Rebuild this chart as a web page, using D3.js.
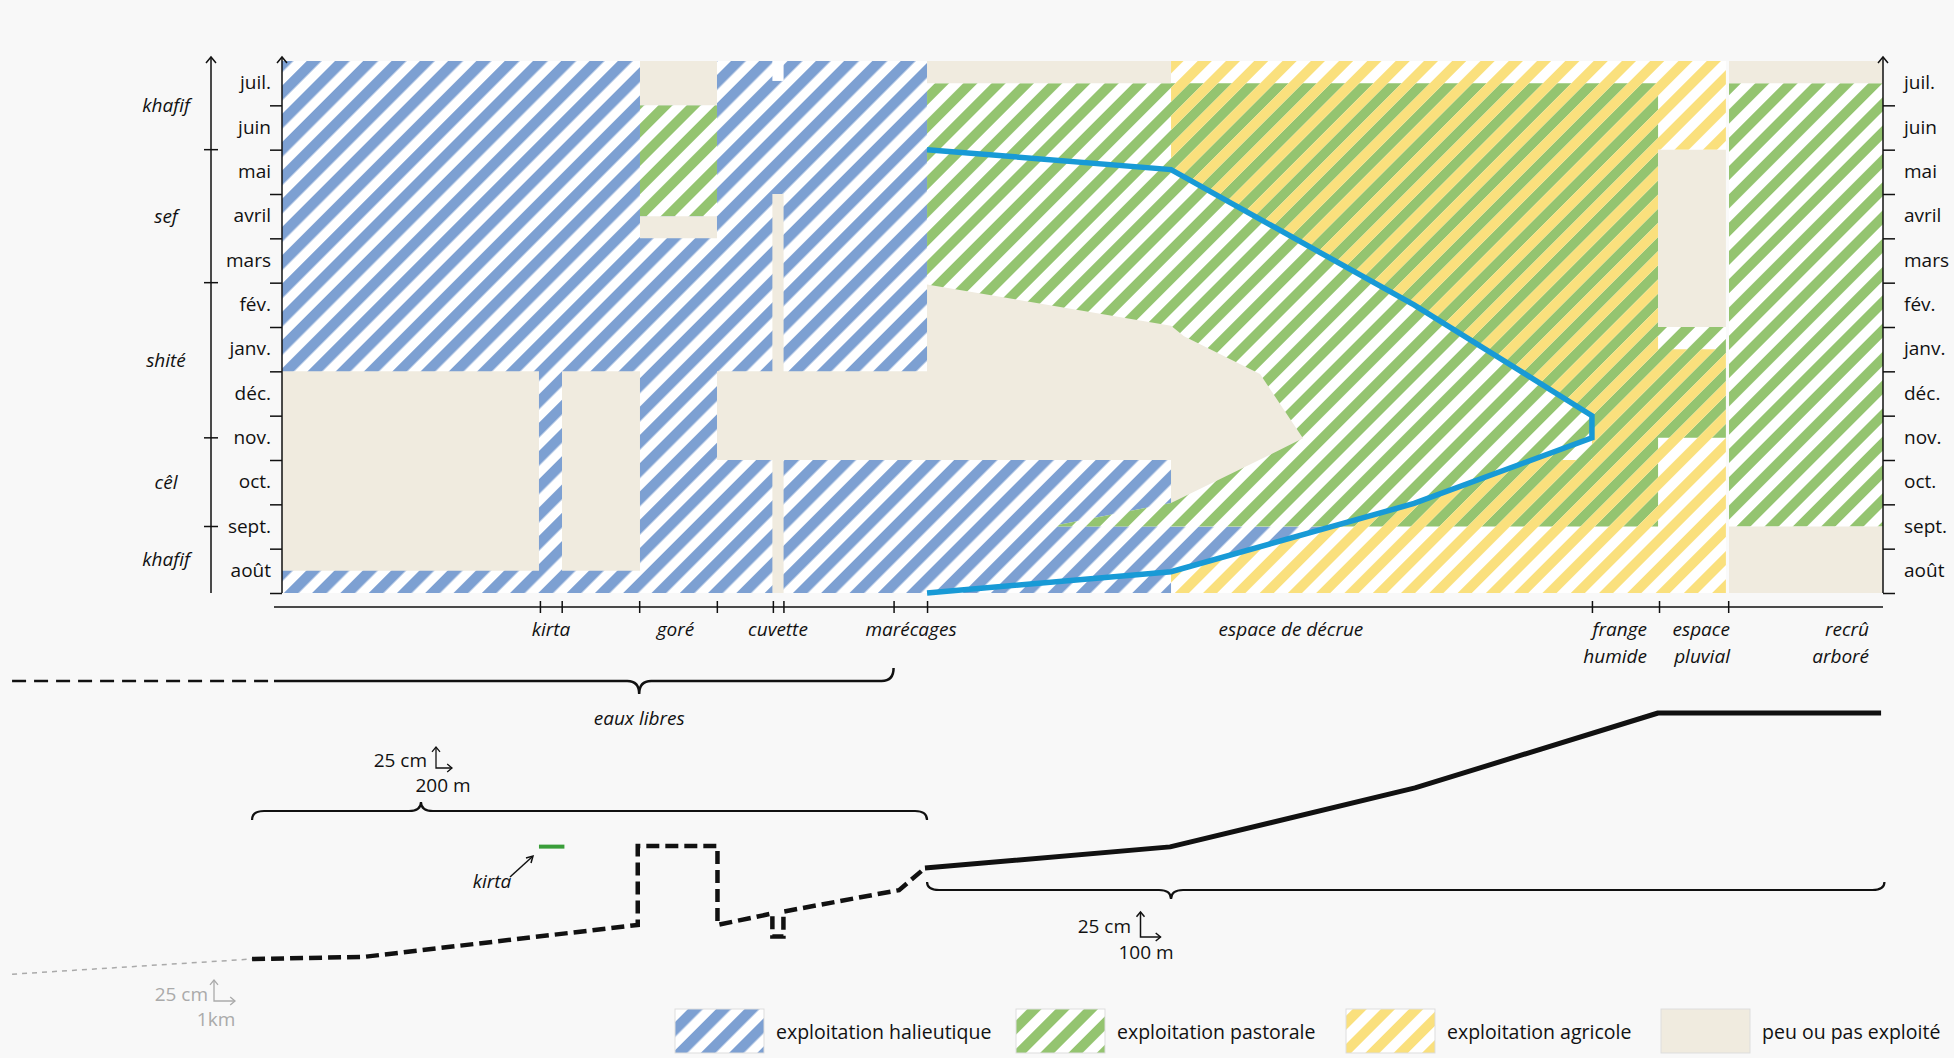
<!DOCTYPE html>
<html><head><meta charset="utf-8">
<script src="https://cdn.jsdelivr.net/npm/d3@7"></script>
<style>
html,body{margin:0;padding:0;background:#f8f8f8;}
svg{display:block;}
</style></head><body>
<svg id="chart" width="1954" height="1058"></svg>
<script>
// ---------------- DATA ----------------
// months from bottom (août) to top (juil.) ; month index 0..12
const months = ["août","sept.","oct.","nov.","déc.","janv.","fév.","mars","avril","mai","juin","juil."];
const seasons = [
  {name:"khafif", from:0, to:1.5},
  {name:"cêl", from:1.5, to:3.5},
  {name:"shité", from:3.5, to:7},
  {name:"sef", from:7, to:10},
  {name:"khafif", from:10, to:12}
];
const seasonBreaks = [1.5, 3.5, 7, 10];
// transect positions (0 = channel edge, 1000 = end of transect)
const zoneTicks = [161.1, 174.7, 223.1, 271.6, 306.6, 313.2, 382.0, 402.9, 818.2, 860.1, 903.3];
const zoneLabels = [
  {lines:["kirta"], at:168.0, anchor:"middle"},
  {lines:["goré"], at:245.8, anchor:"middle"},
  {lines:["cuvette"], at:309.8, anchor:"middle"},
  {lines:["marécages"], at:392.9, anchor:"middle"},
  {lines:["espace de décrue"], at:630.2, anchor:"middle"},
  {lines:["frange","humide"], at:852.6, anchor:"end"},
  {lines:["espace","pluvial"], at:904.4, anchor:"end"},
  {lines:["recrû","arboré"], at:991.3, anchor:"end"}
];
// land use zones: [transect, month]
const halieutique = [[0,12],[402.9,12],[402.9,3],[555.3,3],[555.3,1.5],[655.8,1.5],[555.3,0.48],[555.3,0],[0,0]];
const pastoraleRects = [[223.6,271.7,8.5,11],[903.8,1000,1.5,11.5]];
const pastoraleMain = [[402.9,11.5],[859.5,11.5],[859.5,6],[901.9,6],[901.9,3.5],[859.5,3.5],[859.5,1.5],[479.7,1.5],[555.3,2.03],[555.3,4],[402.9,4]];
const agricole = [[555.3,12],[901.9,12],[901.9,10],[859.5,10],[859.5,5.5],[901.9,5.5],[901.9,0],[555.3,0],[555.3,0.48],[707.1,2.02],[796,3.21],[796,3.0],[818.2,3.0],[818.2,4],[707.1,6.5],[555.3,9.55]];
const peuArrow = [[271.7,5],[402.9,5],[402.9,6.96],[555.3,6.03],[563.4,5.79],[610.9,4.94],[637.7,3.49],[623.4,3.23],[555.3,2.03],[555.3,3],[271.7,3]];
const peuRects = [[0,160.5,0.5,5],[174.9,223.6,0.5,5],[223.6,271.7,11,12],[223.6,271.7,8,8.5],[306.3,313.3,0,9],[402.9,555.3,11.5,12],[859.5,901.9,6,10],[903.8,1000,11.5,12],[903.8,1000,0,1.5]];
const cuvetteNotch = [306.3,313.3,11.55,12];
// flood front
const floodLine = [[402.9,10],[555.3,9.55],[707.1,6.5],[818.2,4],[818.2,3.5],[707.1,2.02],[555.3,0.48],[402.9,0]];
// topographic profile: [transect, relative elevation]
const profileFar = [[-168.6,0.3],[-18.7,6.1]];
const profileDashed = [[-18.7,6.1],[50.9,6.9],[222.2,19.1],[222.2,49.2],[272,49.2],[272,19.1],[306.3,23.5],[306.3,14.7],[313.2,14.7],[313.2,24.2],[385.4,32.4],[401.6,40.8]];
const profileSolid = [[401.6,40.8],[554.7,48.9],[707.7,71.4],[859.5,100],[998.8,100]];
const kirtaMark = [[160.5,49.0],[176.4,49.0]];
const legendItems = [
  {label:"exploitation halieutique", key:"hal"},
  {label:"exploitation pastorale", key:"pas"},
  {label:"exploitation agricole", key:"agr"},
  {label:"peu ou pas exploité", key:"peu"}
];

// ---------------- STYLE ----------------
const FONT = "'Open Sans','Noto Sans',sans-serif";
const C = {blue:"#7da0d2", green:"#94c470", yellow:"#fae07d", beige:"#f0ebdf", flood:"#189ad6", ink:"#111"};

const svg = d3.select("#chart");
const x = d3.scaleLinear().domain([0,1000]).range([282,1883]);
const y = d3.scaleLinear().domain([0,12]).range([593,61]);
const yBand = d3.scaleBand().domain(months.slice().reverse()).range([y(12), y(0)]);
const elev = d3.scaleLinear().domain([0,100]).range([975,713]);

const defs = svg.append("defs");
function pattern(id, color, offset, width, bg){
  const p = defs.append("pattern").attr("id",id).attr("patternUnits","userSpaceOnUse")
    .attr("width",20).attr("height",20).attr("patternTransform","rotate(45)");
  if(bg) p.append("rect").attr("width",20).attr("height",20).attr("fill","#fff");
  p.append("rect").attr("x",offset).attr("y",-1).attr("width",width).attr("height",22).attr("fill",color);
}
pattern("hal", C.blue, 0, 10.5, false);
pattern("pas", C.green, 0, 10, false);
pattern("agr", C.yellow, 10, 10, false);
pattern("halL", C.blue, 0, 10.5, true);
pattern("pasL", C.green, 0, 10, true);
pattern("agrL", C.yellow, 10, 10, true);

const poly = d3.line().x(d=>x(d[0])).y(d=>y(d[1]));
const polyPath = pts => poly(pts) + "Z";
const rectPts = r => [[r[0],r[3]],[r[1],r[3]],[r[1],r[2]],[r[0],r[2]]];

const plot = svg.append("g");
// white base
plot.append("rect").attr("x",x(0)).attr("y",y(12)).attr("width",x(1000)-x(0)).attr("height",y(0)-y(12)).attr("fill","#fff");
// halieutique
plot.append("path").attr("d",polyPath(halieutique)).attr("fill","url(#hal)");
// pastorale
[...pastoraleRects.map(rectPts), pastoraleMain].forEach(p=>{
  plot.append("path").attr("d",polyPath(p)).attr("fill","#fff");
  plot.append("path").attr("d",polyPath(p)).attr("fill","url(#pas)");
});
// agricole
plot.append("path").attr("d",polyPath(agricole)).attr("fill","url(#agr)");
// peu ou pas exploité
plot.append("path").attr("d",polyPath(peuArrow)).attr("fill",C.beige);
peuRects.forEach(r=>plot.append("path").attr("d",polyPath(rectPts(r))).attr("fill",C.beige));
plot.append("path").attr("d",polyPath(rectPts(cuvetteNotch))).attr("fill","#fff");
// gap between espace pluvial and recrû
plot.append("rect").attr("x",x(901.9)).attr("y",y(12)).attr("width",x(903.8)-x(901.9)).attr("height",y(0)-y(12)).attr("fill","#fafafa");
// flood line
plot.append("path").attr("d",poly(floodLine)).attr("fill","none").attr("stroke",C.flood)
  .attr("stroke-width",5.5).attr("stroke-linejoin","miter");

// ---------------- AXES ----------------
function chevron(g, px, py, dir, s, color, w){
  let d;
  if(dir==="up") d=`M${px-s},${py+s*1.2}L${px},${py}L${px+s},${py+s*1.2}`;
  else d=`M${px-s*1.2},${py-s}L${px},${py}L${px-s*1.2},${py+s}`;
  g.append("path").attr("d",d).attr("fill","none").attr("stroke",color).attr("stroke-width",w);
}
function styleAxis(g){
  g.select(".domain").remove();
  g.selectAll("line").attr("stroke",C.ink).attr("stroke-width",1.5);
  g.attr("font-family",FONT).attr("font-size",19);
  g.selectAll("text").attr("fill",C.ink);
}
const axes = svg.append("g");
// left ticks
const gL = axes.append("g").attr("transform",`translate(${x(0)},0)`)
  .call(d3.axisLeft(y).tickValues(d3.range(0,12)).tickSize(12).tickFormat(""));
styleAxis(gL);
const gLl = axes.append("g").attr("transform",`translate(${x(0)},0)`)
  .call(d3.axisLeft(yBand).tickSize(0).tickPadding(11));
styleAxis(gLl);
axes.append("line").attr("x1",x(0)).attr("x2",x(0)).attr("y1",y(0)).attr("y2",y(12)-4).attr("stroke",C.ink).attr("stroke-width",1.5);
chevron(axes, x(0), y(12)-4, "up", 5, C.ink, 1.5);
// right
const gR = axes.append("g").attr("transform",`translate(${x(1000)},0)`)
  .call(d3.axisRight(y).tickValues(d3.range(0,12)).tickSize(12).tickFormat(""));
styleAxis(gR);
const gRl = axes.append("g").attr("transform",`translate(${x(1000)},0)`)
  .call(d3.axisRight(yBand).tickSize(0).tickPadding(21));
styleAxis(gRl);
axes.append("line").attr("x1",x(1000)).attr("x2",x(1000)).attr("y1",y(0)).attr("y2",y(12)-4).attr("stroke",C.ink).attr("stroke-width",1.5);
chevron(axes, x(1000), y(12)-4, "up", 5, C.ink, 1.5);
// season axis
const SX = 211;
axes.append("line").attr("x1",SX).attr("x2",SX).attr("y1",y(0)).attr("y2",y(12)-4).attr("stroke",C.ink).attr("stroke-width",1.5);
chevron(axes, SX, y(12)-4, "up", 5, C.ink, 1.5);
axes.selectAll(".sb").data(seasonBreaks).join("line")
  .attr("x1",SX-7).attr("x2",SX+7).attr("y1",d=>y(d)).attr("y2",d=>y(d)).attr("stroke",C.ink).attr("stroke-width",1.5);
axes.selectAll(".sl").data(seasons).join("text")
  .attr("x",166).attr("y",d=>y((d.from+d.to)/2)).attr("dy","0.35em")
  .attr("text-anchor","middle").attr("font-family",FONT).attr("font-size",19).attr("font-style","italic")
  .attr("fill",C.ink).text(d=>d.name);
// bottom axis
axes.append("line").attr("x1",x(-5)).attr("x2",x(1000)).attr("y1",607).attr("y2",607).attr("stroke",C.ink).attr("stroke-width",1.5);
const gB = axes.append("g").attr("transform","translate(0,601)")
  .call(d3.axisBottom(x).tickValues(zoneTicks).tickSize(12).tickFormat(""));
styleAxis(gB);
const zoneLines = zoneLabels.flatMap(d=>d.lines.map((t,i)=>({t, i, at:d.at, anchor:d.anchor})));
axes.selectAll(".zl").data(zoneLines).join("text")
  .attr("font-family",FONT).attr("font-size",19).attr("font-style","italic").attr("fill",C.ink)
  .attr("text-anchor",d=>d.anchor).attr("x",d=>x(d.at)).attr("y",d=>636 + d.i*27).text(d=>d.t);

// ---------------- BRACES ----------------
function brace(x0, x1, xm, yy, tip, e0, e1){
  const r = 12;
  let d = e0 ? `M${x0},${yy+e0}Q${x0},${yy} ${x0+r},${yy}` : `M${x0},${yy}`;
  d += `L${xm-r},${yy}Q${xm},${yy} ${xm},${yy+tip}Q${xm},${yy} ${xm+r},${yy}`;
  d += e1 ? `L${x1-r},${yy}Q${x1},${yy} ${x1},${yy+e1}` : `L${x1},${yy}`;
  return d;
}
const br = svg.append("g").attr("fill","none").attr("stroke",C.ink).attr("stroke-width",2.2);
br.append("path").attr("d",`M${x(-168.6)},681L${x(-7.5)},681`).attr("stroke-dasharray","14,8").attr("stroke-width",2.5);
br.append("path").attr("d",brace(x(-5),x(382),x(223.1),681,13,0,-13)).attr("stroke-width",2.5);
br.append("path").attr("d",brace(x(-18.7),x(402.9),x(86.8),811,-9,9,9));
br.append("path").attr("d",brace(x(402.9),x(1000.9),x(555.3),890,9,-8,-8));

const ann = svg.append("g").attr("font-family",FONT).attr("font-size",19).attr("fill",C.ink);
ann.append("text").attr("x",x(223.1)).attr("y",725).attr("text-anchor","middle").attr("font-style","italic").text("eaux libres");

// ---------------- PROFILE ----------------
const pl = d3.line().x(d=>x(d[0])).y(d=>elev(d[1]));
svg.append("path").attr("d",pl(profileFar)).attr("fill","none").attr("stroke","#aaa").attr("stroke-width",1.5).attr("stroke-dasharray","5,5");
svg.append("path").attr("d",pl(profileDashed)).attr("fill","none").attr("stroke",C.ink).attr("stroke-width",4.5).attr("stroke-dasharray","13,6");
svg.append("path").attr("d",pl(profileSolid)).attr("fill","none").attr("stroke",C.ink).attr("stroke-width",5).attr("stroke-linejoin","round");
svg.append("path").attr("d",pl(kirtaMark)).attr("fill","none").attr("stroke","#3a9e3a").attr("stroke-width",4);
// kirta pointer
svg.append("line").attr("x1",510).attr("y1",877).attr("x2",532).attr("y2",857).attr("stroke",C.ink).attr("stroke-width",1.5);
svg.append("path").attr("d","M526,858L533,856L531,863").attr("fill","none").attr("stroke",C.ink).attr("stroke-width",1.5);
ann.append("text").attr("x",492).attr("y",888).attr("text-anchor","middle").attr("font-style","italic").text("kirta");

// scale marks
function scaleMark(ox, oy, up, right, color, w){
  const g = svg.append("g");
  g.append("path").attr("d",`M${ox},${oy-up}L${ox},${oy}L${ox+right},${oy}`).attr("fill","none").attr("stroke",color).attr("stroke-width",w);
  chevron(g, ox, oy-up, "up", 4, color, w);
  chevron(g, ox+right, oy, "right", 4, color, w);
}
ann.append("text").attr("x",427).attr("y",767).attr("text-anchor","end").text("25 cm");
scaleMark(436, 768, 21, 16, C.ink, 1.3);
ann.append("text").attr("x",443).attr("y",792).attr("text-anchor","middle").text("200 m");
ann.append("text").attr("x",1131).attr("y",933).attr("text-anchor","end").text("25 cm");
scaleMark(1140.5, 937, 25, 20, C.ink, 1.5);
ann.append("text").attr("x",1146).attr("y",959).attr("text-anchor","middle").text("100 m");
ann.append("text").attr("x",208).attr("y",1001).attr("text-anchor","end").attr("fill","#aaa").text("25 cm");
scaleMark(214, 1001, 21, 21, "#aaa", 1.3);
ann.append("text").attr("x",216).attr("y",1026).attr("text-anchor","middle").attr("fill","#aaa").text("1km");

// ---------------- LEGEND ----------------
const legX = [675, 1016, 1346, 1661];
const lg = svg.append("g");
legendItems.forEach((d,i)=>{
  lg.append("rect").attr("x",legX[i]).attr("y",1009).attr("width",89).attr("height",44)
    .attr("fill", d.key==="peu" ? C.beige : `url(#${d.key}L)`).attr("stroke","#ddd").attr("stroke-width",1);
  lg.append("text").attr("x",legX[i]+101).attr("y",1039).attr("font-family",FONT).attr("font-size",19.5)
    .attr("fill",C.ink).text(d.label);
});
</script></body></html>
